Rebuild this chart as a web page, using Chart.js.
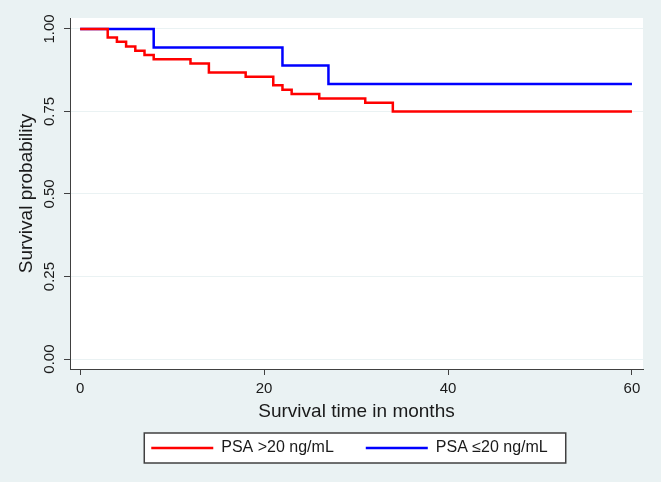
<!DOCTYPE html>
<html>
<head>
<meta charset="utf-8">
<script src="https://cdn.jsdelivr.net/npm/chart.js@4"></script>
<style>
  body { margin: 0; background: #eaf2f3; }
  #wrap { width: 661px; height: 482px; }
</style>
</head>
<body>
<div id="wrap"><canvas id="kmChart" width="661" height="482"></canvas></div>
<script>
// Kaplan-Meier estimates (time in months, survival)
var timeHigh = [0, 3, 4, 5, 6, 7, 8, 12, 14, 18, 21, 22, 23, 26, 31, 34, 60];
var survHigh = [1, 0.974, 0.961, 0.947, 0.934, 0.921, 0.908, 0.895, 0.868, 0.855, 0.829, 0.816, 0.803, 0.789, 0.776, 0.75, 0.75];
var timeLow = [0, 8, 22, 27, 60];
var survLow = [1, 0.944, 0.889, 0.833, 0.833];
var seriesNames = ["PSA >20 ng/mL", "PSA \u226420 ng/mL"];
var xTicks = [0, 20, 40, 60];
var yTicks = [0, 0.25, 0.5, 0.75, 1];

var axisColor = '#404040';
var gridColor = '#eaf2f3';
var textColor = '#1a1a1a';

Chart.defaults.font.family = '"Liberation Sans", Arial, sans-serif';
Chart.defaults.color = textColor;

function toPoints(xs, ys) {
    var pts = [];
    for (var i = 0; i < xs.length; i++) {
        pts.push({ x: xs[i], y: ys[i] });
    }
    return pts;
}

// white plot region like stata's plotregion
var plotBg = {
    id: 'plotBg',
    beforeDraw: function (chart) {
        var a = chart.chartArea;
        var ctx = chart.ctx;
        ctx.save();
        ctx.fillStyle = '#ffffff';
        ctx.fillRect(a.left, a.top, a.right - a.left, a.bottom - a.top);
        ctx.restore();
    }
};

// move the legend row to where it sits in the original
var legendPlace = {
    id: 'legendPlace',
    afterLayout: function (chart) {
        var lg = chart.legend;
        var h = lg.height;
        lg.top = 440 - lg.options.labels.padding;
        lg.bottom = lg.top + h;
        lg.left -= 7;
        lg.right -= 7;
    }
};

// white box with a border behind the legend
var legendBox = {
    id: 'legendBox',
    beforeDraw: function (chart) {
        var hb = chart.legend.legendHitBoxes;
        if (!hb || !hb.length) return;
        var last = hb[hb.length - 1];
        var x0 = hb[0].left - 7;
        var x1 = last.left + last.width + 18;
        var y0 = hb[0].top - 7;
        var y1 = hb[0].top + hb[0].height + 7;
        var ctx = chart.ctx;
        ctx.save();
        ctx.fillStyle = '#ffffff';
        ctx.fillRect(x0, y0, x1 - x0, y1 - y0);
        ctx.strokeStyle = axisColor;
        ctx.lineWidth = 1.5;
        ctx.strokeRect(x0, y0, x1 - x0, y1 - y0);
        ctx.restore();
    }
};

var ctx = document.getElementById('kmChart');
var kmChart = new Chart(ctx, {
    type: 'line',
    data: {
        datasets: [{
            label: seriesNames[0],
            data: toPoints(timeHigh, survHigh),
            borderColor: '#ff0000',
            backgroundColor: '#ff0000',
            borderWidth: 2.5,
            stepped: true,
            pointRadius: 0,
            fill: false
        }, {
            label: seriesNames[1],
            data: toPoints(timeLow, survLow),
            borderColor: '#0000ff',
            backgroundColor: '#0000ff',
            borderWidth: 2.5,
            stepped: true,
            pointRadius: 0,
            fill: false
        }]
    },
    options: {
        responsive: false,
        animation: false,
        layout: { padding: { top: 18, right: 18, left: 0, bottom: 0 } },
        scales: {
            x: {
                type: 'linear',
                min: -1.1,
                max: 61.2,
                afterBuildTicks: function (scale) {
                    scale.ticks = xTicks.map(function (v) { return { value: v }; });
                },
                afterFit: function (scale) { scale.height = 55; },
                ticks: {
                    font: { size: 15 },
                    color: textColor,
                    padding: 5,
                    maxRotation: 0,
                    callback: function (v) { return v; }
                },
                grid: { color: 'rgba(0,0,0,0)', tickColor: axisColor, tickLength: 6 },
                border: { color: axisColor, width: 1 },
                title: {
                    display: true,
                    text: 'Survival time in months',
                    font: { size: 19, lineHeight: 1.2 },
                    color: textColor,
                    padding: { top: 0, bottom: 1 }
                }
            },
            y: {
                type: 'linear',
                min: -0.03,
                max: 1.033,
                afterBuildTicks: function (scale) {
                    scale.ticks = yTicks.map(function (v) { return { value: v }; });
                },
                afterFit: function (scale) { scale.width = 70; },
                ticks: {
                    font: { size: 15 },
                    color: textColor,
                    padding: 0,
                    minRotation: 90,
                    maxRotation: 90,
                    crossAlign: 'center',
                    callback: function (v) { return Number(v).toFixed(2); }
                },
                grid: { color: gridColor, tickColor: axisColor, tickLength: 6 },
                border: { color: axisColor, width: 1 },
                title: {
                    display: true,
                    text: 'Survival probability',
                    font: { size: 19, lineHeight: 1.2 },
                    color: textColor,
                    padding: { top: 15, bottom: 0 }
                }
            }
        },
        plugins: {
            legend: {
                position: 'bottom',
                fullSize: false,
                maxHeight: 58,
                labels: {
                    usePointStyle: true,
                    pointStyle: 'line',
                    pointStyleWidth: 62,
                    padding: 32,
                    color: textColor,
                    font: { size: 16 }
                }
            },
            tooltip: { enabled: false }
        }
    },
    plugins: [plotBg, legendPlace, legendBox]
});
</script>
</body>
</html>
